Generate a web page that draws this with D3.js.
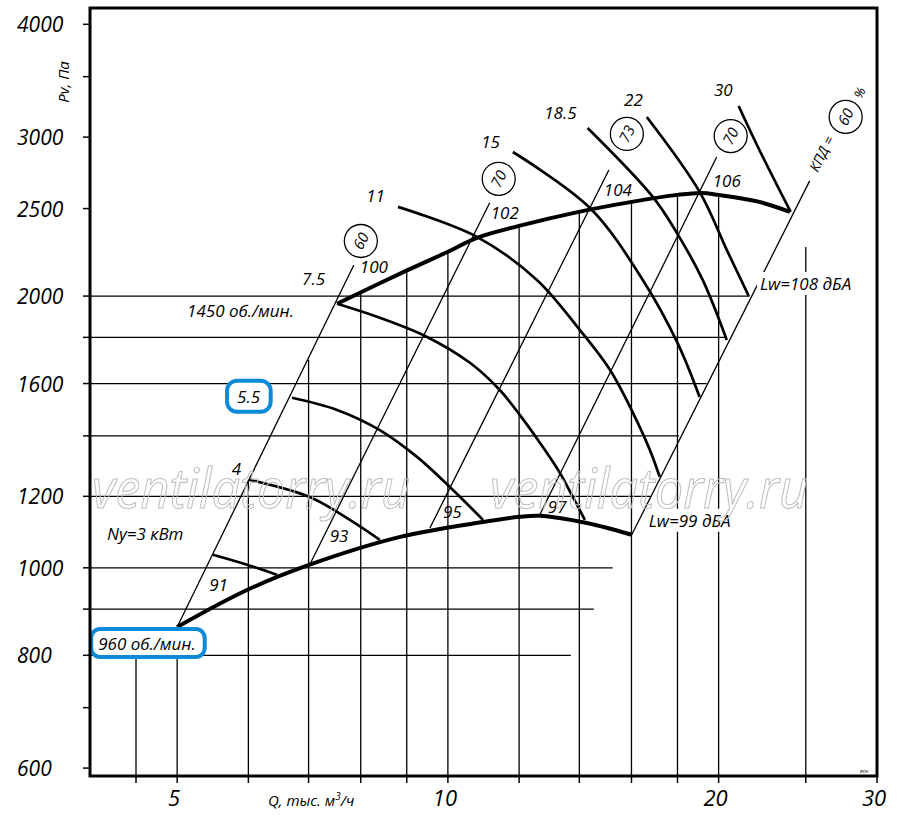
<!DOCTYPE html>
<html><head><meta charset="utf-8">
<script src="https://cdn.jsdelivr.net/npm/d3@7"></script>
<style>
body{margin:0;background:#fff}
svg{display:block}
text{font-family:"Open Sans","Noto Sans",sans-serif;font-style:italic;fill:#000}
</style>
</head><body>
<svg id="c" width="900" height="822"></svg>
<script>
// ---------- data ----------
const qTicks=[4.5,5,6,7,8,9,10,12,14,16,18,20,25,30];
const qTickLabels=[5,10,20,30];
const pTicks=[600,700,800,900,1000,1200,1400,1600,1800,2000,2500,3000,3500,4000];
const pTickLabels=[600,800,1000,1200,1600,2000,2500,3000,4000];
const gridQ=[4.5,5,6,7,8,9,10,12,14,16,18,20,25];
const gridQTopP=[830,860,1252,1700,2020,2138,2239,2392,2479,2543,2589,2589,2266];
const gridP=[800,900,1000,1200,1400,1600,1800,2000];
const gridPEndQ=[13.7,14.53,15.25,16.8,18.07,19.4,20.42,21.65];

const rpmLabels=["960 об./мин.","1450 об./мин."];
const q960=[5.0,5.98,7.02,8.85,10.94,12.02,12.65,14.27,16.01];
const p960=[860,945,1008,1082,1124,1139,1142,1121,1088];
const q1450=[7.53,9.03,10.0,10.77,12.0,13.98,16.01,18.0,19.15,19.98,22.2,24.0];
const p1450=[1961,2138,2239,2320,2392,2479,2543,2589,2602,2589,2543,2479];

// system (sound-level / efficiency) lines: bottom point at 960, top point above 1450
const lineQ0=[5.0,7.02,9.55,12.62,16.01];
const lineP0=[860,1008,1107,1139,1088];
const lineQ1=[7.86,11.13,15.1,19.9,25.25];
const lineP1=[2165,2537,2759,2851,2683];
const lw960=["91","93","95","97","Lw=99 дБА"];
const lw1450=["100","102","104","106","Lw=108 дБА"];
const efficiency=["60","70","73","70","60"];

// power curves, kW
const powerLabels=["Ny=3 кВт","4","5.5","7.5","11","15","18.5","22","30"];
const powerQ=[
  [5.48,5.98,6.46],
  [6.01,7.02,7.78,8.40],
  [6.71,7.53,8.40,9.24,10.05,10.94],
  [7.53,8.34,9.48,10.58,11.42,12.02,12.66,13.32,13.77,14.2],
  [8.80,10.77,12.56,14.02,15.14,16.06,16.77,17.2],
  [11.81,14.38,16.47,18.0,19.05],
  [14.3,16.9,17.97,19.2,20.42],
  [16.64,19.05,20.42,21.6],
  [21.05,22.2,24.05]
];
const powerP=[
  [1034,1008,982],
  [1252,1198,1130,1074],
  [1543,1496,1421,1327,1229,1130],
  [1961,1897,1802,1687,1574,1477,1375,1274,1198,1130],
  [2511,2326,2084,1834,1657,1485,1351,1261],
  [2888,2505,2084,1775,1546],
  [3071,2576,2350,2084,1788],
  [3158,2609,2250,2001],
  [3248,2903,2479]
];

// ---------- layout (pixel offsets for annotations) ----------
const powerLabelOff=[[-106,-15,"start"],[-8,-5,"end"],[-32,5,"end"],[-12,-19,"end"],[-13,-5,"end"],[-13,-4,"end"],[-11,-9,"end"],[-4,-11,"end"],[-6,-10,"end"]];
const lwLowOff=[[32,-36],[20,-23],[13,-10],[9,-4],[17,-8]];
const lwHighOff=[[6,8],[1,16],[-5,26],[-4,30]];
const circleOff=[[7,-24],[9,-24],[18,-36],[14,-21],[36,-64]];
const ANG=-63.5;

// ---------- drawing ----------
const svg=d3.select("#c");
const x=d3.scaleLog().domain([4,30]).range([90,877]);
const y=d3.scaleLog().domain([588,4170]).range([776,8]);
const pMin=588;

const gGrid=svg.append("g").attr("stroke","#000").attr("stroke-width",1.3);
gGrid.selectAll("line.v").data(d3.zip(gridQ,gridQTopP)).join("line")
  .attr("x1",d=>x(d[0])).attr("x2",d=>x(d[0]))
  .attr("y1",y(pMin)).attr("y2",d=>y(d[1]));
gGrid.selectAll("line.h").data(d3.zip(gridP,gridPEndQ)).join("line")
  .attr("x1",x(4)).attr("x2",d=>x(d[1]))
  .attr("y1",d=>y(d[0])).attr("y2",d=>y(d[0]));

// system lines
const sysData=lineQ0.map((q,i)=>({q0:q,p0:lineP0[i],q1:lineQ1[i],p1:lineP1[i]}));
svg.append("g").attr("stroke","#000").attr("stroke-width",1.3)
  .selectAll("line").data(sysData).join("line")
  .attr("x1",d=>x(d.q0)).attr("y1",d=>y(d.p0))
  .attr("x2",d=>x(d.q1)).attr("y2",d=>y(d.p1));

const lineGen=d3.line().x(d=>x(d[0])).y(d=>y(d[1])).curve(d3.curveCatmullRom.alpha(0.5));

// power curves
svg.append("g").attr("fill","none").attr("stroke","#000").attr("stroke-width",2.7)
  .selectAll("path").data(powerQ.map((qs,i)=>d3.zip(qs,powerP[i]))).join("path")
  .attr("d",lineGen);

// rpm curves
svg.append("g").attr("fill","none").attr("stroke","#000").attr("stroke-width",4)
  .selectAll("path").data([d3.zip(q960,p960),d3.zip(q1450,p1450)]).join("path")
  .attr("d",lineGen);

// power labels
powerLabels.forEach((t,i)=>{
  const o=powerLabelOff[i];
  svg.append("text").attr("x",x(powerQ[i][0])+o[0]).attr("y",y(powerP[i][0])+o[1])
    .attr("text-anchor",o[2]).attr("font-size",17).text(t);
});

function bgText(tx,ty,t,size,pad){
  const g=svg.append("g");
  const r=g.append("rect").attr("fill","#fff");
  const te=g.append("text").attr("x",tx).attr("y",ty).attr("font-size",size).text(t);
  const b=te.node().getBBox();
  r.attr("x",b.x-pad).attr("y",b.y).attr("width",b.width+2*pad).attr("height",b.height);
  return te;
}
lw960.forEach((t,i)=>{
  const o=lwLowOff[i];
  const tx=x(lineQ0[i])+o[0], ty=y(lineP0[i])+o[1];
  if(i===4) bgText(tx,ty,t,17,3);
  else svg.append("text").attr("x",tx).attr("y",ty).attr("font-size",17).text(t);
});
lw1450.slice(0,4).forEach((t,i)=>{
  const o=lwHighOff[i];
  svg.append("text").attr("x",x(lineQ1[i])+o[0]).attr("y",y(lineP1[i])+o[1]).attr("font-size",17).text(t);
});
// Lw=108 label placed at its reading position (Q, Pv)
bgText(x(22.23),y(2031),lw1450[4],17,3);

// efficiency circles
efficiency.forEach((t,i)=>{
  const o=circleOff[i];
  const g=svg.append("g").attr("transform",`translate(${x(lineQ1[i])+o[0]},${y(lineP1[i])+o[1]})`);
  g.append("circle").attr("r",16.5).attr("fill","#fff").attr("stroke","#000").attr("stroke-width",1.3);
  g.append("text").attr("transform",`rotate(${ANG})`).attr("text-anchor","middle").attr("dy","0.36em")
    .attr("font-size",15).text(t);
});
{
  const tx=x(lineQ1[4]), ty=y(lineP1[4]);
  svg.append("text").attr("transform",`translate(${tx+12},${ty-27}) rotate(${ANG})`)
    .attr("text-anchor","middle").attr("dy","0.35em").attr("font-size",14).text("КПД =");
  svg.append("text").attr("transform",`translate(${tx+50},${ty-88}) rotate(${ANG})`)
    .attr("text-anchor","middle").attr("dy","0.35em").attr("font-size",13).text("%");
}

// rpm labels
const blue="#0a8ad8";
{
  svg.append("text").attr("x",x(q1450[0])-150).attr("y",y(p1450[0])+13).attr("font-size",17).text(rpmLabels[1]);
  const g=svg.append("g");
  const r=g.append("rect");
  const te=g.append("text").attr("x",x(q960[0])-79).attr("y",y(p960[0])+23).attr("font-size",17).text(rpmLabels[0]);
  const b=te.node().getBBox();
  r.attr("x",b.x-7).attr("y",b.y-3).attr("width",b.width+16).attr("height",b.height+5)
   .attr("rx",9).attr("fill","#fff").attr("stroke",blue).attr("stroke-width",4);
}
// box around 5.5
{
  const lbl=svg.selectAll("text").filter(function(){return d3.select(this).text()==="5.5";});
  const b=lbl.node().getBBox();
  svg.insert("rect",()=>lbl.node()).attr("x",b.x-10).attr("y",b.y-4).attr("width",b.width+20).attr("height",b.height+8)
   .attr("rx",10).attr("fill","#fff").attr("stroke",blue).attr("stroke-width",4);
}

// watermark
[92,490].forEach(wx=>{
  svg.append("text").attr("x",wx).attr("y",508).attr("font-size",54)
    .attr("font-family","Liberation Sans, Arial, sans-serif")
    .attr("textLength",318).attr("lengthAdjust","spacingAndGlyphs")
    .style("fill","none").attr("stroke","#c0c0c0").attr("stroke-width",1.1).text("ventilatorry.ru");
});

// frame
svg.append("rect").attr("x",90).attr("y",8).attr("width",787).attr("height",768)
  .attr("fill","none").attr("stroke","#000").attr("stroke-width",3);

// ticks
const gt=svg.append("g").attr("stroke","#000").attr("stroke-width",1.5);
gt.selectAll("line.yt").data(pTicks).join("line")
  .attr("x1",83).attr("x2",90).attr("y1",d=>y(d)).attr("y2",d=>y(d));
gt.selectAll("line.xt").data(qTicks).join("line")
  .attr("x1",d=>x(d)).attr("x2",d=>x(d)).attr("y1",776).attr("y2",783);

svg.append("g").selectAll("text").data(pTickLabels).join("text")
  .attr("x",17).attr("y",d=>y(d)+8).attr("font-size",21).text(d=>d);
svg.append("g").selectAll("text").data(qTickLabels).join("text")
  .attr("x",d=>x(d)-3).attr("y",806).attr("text-anchor","middle").attr("font-size",22).text(d=>d);

// axis titles
svg.append("text").attr("transform","translate(69,82) rotate(-90)").attr("text-anchor","middle")
  .attr("font-size",15).text("Pv, Па");
svg.append("text").attr("x",268).attr("y",806).attr("font-size",15)
  .html('Q, тыс. м<tspan dy="-6" font-size="10">3</tspan><tspan dy="6">/ч</tspan>');
svg.append("text").attr("x",860).attr("y",773).attr("font-size",5).text("ясн");
</script>
</body></html>
